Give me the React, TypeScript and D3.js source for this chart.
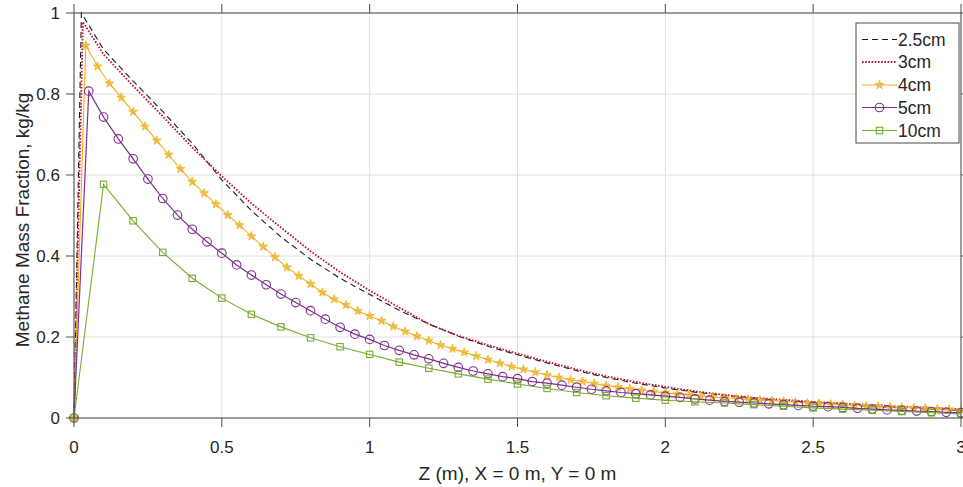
import React from "react";
import * as d3 from "d3";

const seriesNames = ["2.5cm", "3cm", "4cm", "5cm", "10cm"];
const xTicks = [0, 0.5, 1, 1.5, 2, 2.5, 3];
const yTicks = [0, 0.2, 0.4, 0.6, 0.8, 1];
const xTickLabels = ["0", "0.5", "1", "1.5", "2", "2.5", "3"];
const yTickLabels = ["0", "0.2", "0.4", "0.6", "0.8", "1"];

// 2.5cm (no markers)
const z25 = [0, 0.025, 0.1, 0.2, 0.3, 0.4, 0.5, 0.6, 0.7, 0.8, 0.9, 1.0, 1.1, 1.2, 1.3, 1.4, 1.5, 1.6, 1.7, 1.8, 1.9, 2.0, 2.1, 2.2, 2.3, 2.4, 2.5, 2.6, 2.7, 2.8, 2.9, 3.0];
const y25 = [0, 1.0, 0.91, 0.832, 0.757, 0.678, 0.588, 0.512, 0.447, 0.392, 0.345, 0.305, 0.266, 0.232, 0.202, 0.177, 0.156, 0.136, 0.117, 0.1, 0.086, 0.074, 0.064, 0.056, 0.049, 0.043, 0.038, 0.033, 0.029, 0.025, 0.022, 0.019];

// 3cm (no markers)
const z3 = [0, 0.03, 0.1, 0.2, 0.3, 0.4, 0.5, 0.6, 0.7, 0.8, 0.9, 1.0, 1.1, 1.2, 1.3, 1.4, 1.5, 1.6, 1.7, 1.8, 1.9, 2.0, 2.1, 2.2, 2.3, 2.4, 2.5, 2.6, 2.7, 2.8, 2.9, 3.0];
const y3 = [0, 0.978, 0.898, 0.82, 0.745, 0.668, 0.597, 0.53, 0.47, 0.412, 0.36, 0.315, 0.273, 0.232, 0.203, 0.18, 0.159, 0.139, 0.12, 0.103, 0.089, 0.077, 0.066, 0.057, 0.05, 0.045, 0.04, 0.036, 0.032, 0.028, 0.025, 0.022];

// 4cm (stars), step 0.04
const z4 = d3.range(76).map((i) => +(i * 0.04).toFixed(2));
const y4 = [0, 0.92, 0.868, 0.826, 0.791, 0.756, 0.72, 0.685, 0.65, 0.615, 0.583, 0.555, 0.528, 0.501, 0.476, 0.449, 0.423, 0.397, 0.372, 0.351, 0.331, 0.31, 0.293, 0.279, 0.264, 0.252, 0.24, 0.226, 0.214, 0.202, 0.191, 0.18, 0.171, 0.162, 0.153, 0.144, 0.135, 0.127, 0.12, 0.113, 0.106, 0.1, 0.094, 0.09, 0.085, 0.08, 0.076, 0.072, 0.069, 0.065, 0.062, 0.059, 0.057, 0.054, 0.052, 0.05, 0.048, 0.046, 0.044, 0.043, 0.041, 0.039, 0.037, 0.036, 0.034, 0.033, 0.031, 0.03, 0.029, 0.027, 0.026, 0.025, 0.024, 0.022, 0.021, 0.02];

// 5cm (circles), step 0.05
const z5 = d3.range(61).map((i) => +(i * 0.05).toFixed(2));
const y5 = [0, 0.807, 0.743, 0.689, 0.64, 0.59, 0.542, 0.501, 0.466, 0.435, 0.407, 0.378, 0.353, 0.329, 0.306, 0.285, 0.265, 0.244, 0.224, 0.207, 0.194, 0.179, 0.167, 0.156, 0.146, 0.135, 0.125, 0.116, 0.109, 0.102, 0.097, 0.09, 0.086, 0.081, 0.076, 0.071, 0.067, 0.063, 0.06, 0.057, 0.054, 0.051, 0.047, 0.044, 0.041, 0.039, 0.037, 0.035, 0.033, 0.031, 0.029, 0.028, 0.026, 0.024, 0.022, 0.02, 0.019, 0.017, 0.016, 0.014, 0.013];

// 10cm (squares), step 0.1
const z10 = d3.range(31).map((i) => +(i * 0.1).toFixed(1));
const y10 = [0, 0.577, 0.487, 0.409, 0.345, 0.296, 0.256, 0.225, 0.198, 0.176, 0.157, 0.138, 0.123, 0.109, 0.096, 0.084, 0.073, 0.063, 0.055, 0.049, 0.044, 0.04, 0.037, 0.033, 0.029, 0.025, 0.022, 0.019, 0.016, 0.013, 0.01];

const W = 963;
const H = 487;
const L = 74, R = 961, T = 13, B = 418;
const FONT = "'Liberation Sans', Arial, Helvetica, sans-serif";
const TXT = "#262626";
const AX = "#4a4a4a";

type Style = { color: string; width: number; dash?: string; marker?: "star" | "circle" | "square" };
const styles: Style[] = [
  { color: "#1a1a1a", width: 1.1, dash: "6,4" },
  { color: "#C0132F", width: 1.8, dash: "1.6,1.6" },
  { color: "#EDB120", width: 1.1, marker: "star" },
  { color: "#7E2F8E", width: 1.2, marker: "circle" },
  { color: "#77AC30", width: 1.1, marker: "square" },
];

const starPath = d3.symbol().type(d3.symbolStar).size(24)() as string;

function Marker({ kind, cx, cy, color }: { kind?: string; cx: number; cy: number; color: string }) {
  if (kind === "circle") return <circle cx={cx} cy={cy} r={4.3} fill="none" stroke={color} strokeWidth={1.1} />;
  if (kind === "square") return <rect x={cx - 3.2} y={cy - 3.2} width={6.4} height={6.4} fill="none" stroke={color} strokeWidth={1.1} />;
  if (kind === "star") return <path d={starPath} transform={`translate(${cx},${cy})`} fill={color} fillOpacity={0.7} stroke={color} strokeWidth={0.8} />;
  return null;
}

export default function App() {
  const x = d3.scaleLinear().domain([0, 3]).range([L, R]);
  const y = d3.scaleLinear().domain([0, 1]).range([B, T]);
  const data = [
    [z25, y25],
    [z3, y3],
    [z4, y4],
    [z5, y5],
    [z10, y10],
  ].map(([zs, ys]) => zs.map((z, i) => [z, ys[i]] as [number, number]));
  const line = d3.line<[number, number]>().x((d) => x(d[0])).y((d) => y(d[1]));

  const legX0 = 856, legY0 = 23, legW = 103, legH = 120;
  const legRowY = [39.5, 62, 85, 107.5, 130.5];

  return (
    <svg width={W} height={H} style={{ position: "absolute", left: 0, top: 0, background: "#fff" }} fontFamily={FONT}>
      <rect x={0} y={0} width={W} height={H} fill="#fff" />
      {xTicks.map((t) => (
        <line key={"gx" + t} x1={x(t)} x2={x(t)} y1={T} y2={B} stroke="#e0e0e0" strokeWidth={1} />
      ))}
      {yTicks.map((t) => (
        <line key={"gy" + t} x1={L} x2={R} y1={y(t)} y2={y(t)} stroke="#e0e0e0" strokeWidth={1} />
      ))}
      {data.map((pts, si) => (
        <g key={"s" + si}>
          <path d={line(pts) as string} fill="none" stroke={styles[si].color} strokeWidth={styles[si].width} strokeDasharray={styles[si].dash} />
          {styles[si].marker && pts.map((p, i) => <Marker key={i} kind={styles[si].marker} cx={x(p[0])} cy={y(p[1])} color={styles[si].color} />)}
        </g>
      ))}
      <line x1={L} x2={R} y1={B} y2={B} stroke={AX} strokeWidth={1} />
      <line x1={L} x2={R} y1={T} y2={T} stroke={AX} strokeWidth={1} />
      <line x1={L} x2={L} y1={T} y2={B} stroke={AX} strokeWidth={1} />
      <line x1={R} x2={R} y1={T} y2={B} stroke={AX} strokeWidth={1} />
      {xTicks.map((t, i) => (
        <g key={"xt" + t}>
          <line x1={x(t)} x2={x(t)} y1={B} y2={B + 9} stroke={AX} />
          <line x1={x(t)} x2={x(t)} y1={T} y2={T - 9} stroke={AX} />
          <text x={x(t)} y={453} textAnchor="middle" fontSize={17} fill={TXT}>{xTickLabels[i]}</text>
        </g>
      ))}
      {yTicks.map((t, i) => (
        <g key={"yt" + t}>
          <line x1={L} x2={L - 8} y1={y(t)} y2={y(t)} stroke={AX} />
          <line x1={R} x2={R + 8} y1={y(t)} y2={y(t)} stroke={AX} />
          <text x={60} y={y(t) + 6} textAnchor="end" fontSize={17} fill={TXT}>{yTickLabels[i]}</text>
        </g>
      ))}
      <text x={(L + R) / 2} y={479.5} textAnchor="middle" fontSize={19} fill={TXT}>Z (m), X = 0 m, Y = 0 m</text>
      <text transform="translate(28.5,220) rotate(-90)" textAnchor="middle" fontSize={19} fill={TXT}>Methane Mass Fraction, kg/kg</text>
      <rect x={legX0} y={legY0} width={legW} height={legH} fill="#fff" stroke={AX} strokeWidth={1} />
      {seriesNames.map((n, i) => (
        <g key={"lg" + n}>
          <line x1={862} x2={897} y1={legRowY[i]} y2={legRowY[i]} stroke={styles[i].color} strokeWidth={styles[i].width} strokeDasharray={styles[i].dash} />
          {styles[i].marker && <Marker kind={styles[i].marker} cx={879.5} cy={legRowY[i]} color={styles[i].color} />}
          <text x={898} y={legRowY[i] + 6} fontSize={17.5} fill={TXT}>{n}</text>
        </g>
      ))}
    </svg>
  );
}
